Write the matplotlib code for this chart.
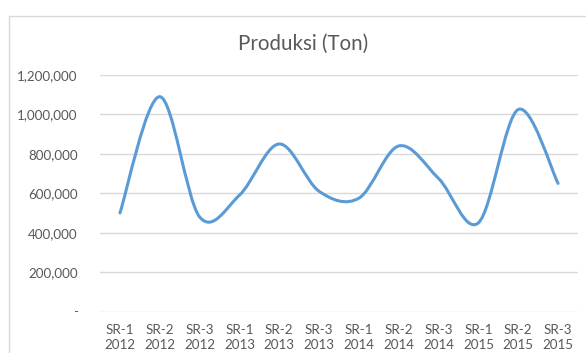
import matplotlib
matplotlib.use("Agg")

import matplotlib.pyplot as plt
from matplotlib.path import Path
from matplotlib.patches import PathPatch, Rectangle
from matplotlib.ticker import FuncFormatter


# =========================
# DATA
# =========================

periods = ["SR-1", "SR-2", "SR-3"] * 4
years = ["2012"] * 3 + ["2013"] * 3 + ["2014"] * 3 + ["2015"] * 3
produksi = [500000, 1090000, 480000, 590000, 850000, 610000,
            575000, 840000, 675000, 450000, 1025000, 650000]

y_ticks = [0, 200000, 400000, 600000, 800000, 1000000, 1200000]

LINE_COLOR = "#5B9BD5"
TEXT_COLOR = "#595959"
GRID_COLOR = "#D9D9D9"


# =========================
# SMOOTH LINE (excel style bezier)
# =========================

def smooth_path(xs, ys):
    n = len(xs)
    verts = [(xs[0], ys[0])]
    codes = [Path.MOVETO]
    for i in range(n - 1):
        p0 = max(i - 1, 0)
        p3 = min(i + 2, n - 1)
        c1 = (xs[i] + (xs[i + 1] - xs[p0]) / 6, ys[i] + (ys[i + 1] - ys[p0]) / 6)
        c2 = (xs[i + 1] - (xs[p3] - xs[i]) / 6, ys[i + 1] - (ys[p3] - ys[i]) / 6)
        verts += [c1, c2, (xs[i + 1], ys[i + 1])]
        codes += [Path.CURVE4] * 3
    return Path(verts, codes)


plt.rcParams["font.family"] = ["Lato", "DejaVu Sans"]

fig = plt.figure(figsize=(5.86, 3.53), dpi=100)

# chart frame, cut off at right and bottom like the screenshot
fig.add_artist(Rectangle((9 / 586, -0.1), 1.0, 1 - 15.5 / 353 + 0.1,
                         transform=fig.transFigure, fill=False,
                         edgecolor=GRID_COLOR, linewidth=1.0, clip_on=False))

ax = fig.add_axes([100 / 586, 1 - 311.5 / 353, 478 / 586, 236.5 / 353])

x = list(range(len(produksi)))
ax.add_patch(PathPatch(smooth_path(x, produksi), fill=False,
                       edgecolor=LINE_COLOR, linewidth=2.2,
                       capstyle="round", joinstyle="round", zorder=3))

ax.set_xlim(-0.5, len(produksi) - 0.5)
ax.set_ylim(0, 1200000)
ax.set_yticks(y_ticks)
ax.yaxis.set_major_formatter(FuncFormatter(lambda v, p: "-" if v == 0 else f"{int(v):,}"))
ax.set_xticks(x)
ax.set_xticklabels([f"{p}\n{y}" for p, y in zip(periods, years)], linespacing=1.3)

ax.grid(axis="y", color=GRID_COLOR, linewidth=1.0)
ax.set_axisbelow(True)
for s in ax.spines.values():
    s.set_visible(False)
ax.tick_params(length=0, colors=TEXT_COLOR, labelsize=9.6)
ax.tick_params(axis="y", pad=16)
ax.tick_params(axis="x", pad=9)

fig.text(303 / 586, 1 - 44 / 353, "Produksi (Ton)", ha="center", va="center",
         fontsize=14.8, color=TEXT_COLOR)

plt.savefig("out.png", dpi=100)
plt.close()
